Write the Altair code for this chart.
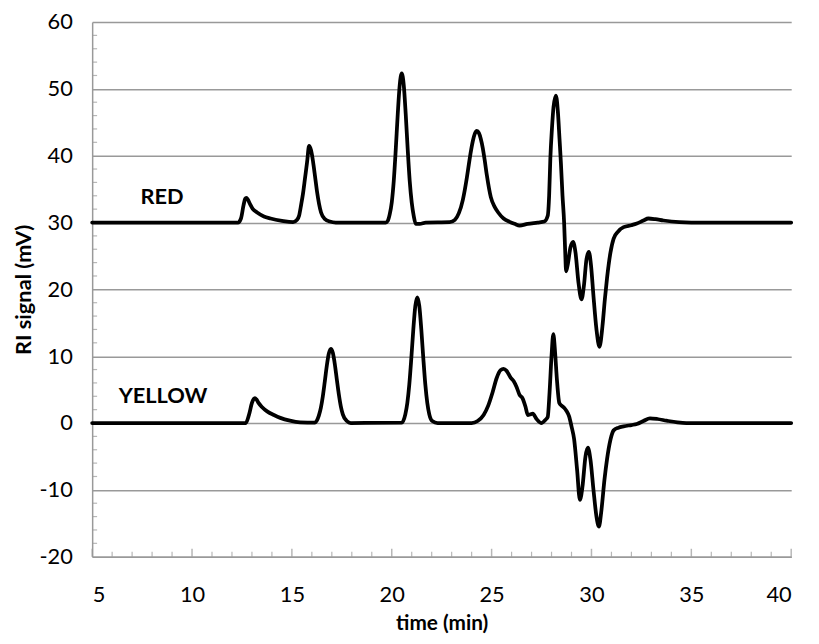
import altair as alt
import pandas as pd

# ---- data ----
red_time = [5, 12.3, 12.45, 12.58, 12.66, 12.72, 12.8, 12.9, 13.05, 13.26, 13.6, 13.93, 14.5, 15.06,
            15.26, 15.36, 15.46, 15.56, 15.66, 15.76, 15.86, 15.96, 16.06, 16.16, 16.26,
            16.36, 16.46, 16.66, 16.9, 17.2, 19.7, 19.8, 19.9, 20.0, 20.1, 20.2, 20.3,
            20.4, 20.5, 20.6, 20.7, 20.8, 20.9, 21.0, 21.1, 21.2, 21.4, 21.7, 22.9,
            23.16, 23.36, 23.56, 23.76, 23.86, 23.96, 24.06, 24.16, 24.26, 24.36, 24.46,
            24.56, 24.66, 24.76, 24.96, 25.16, 25.33, 25.6, 25.9, 26.15, 26.4, 26.8,
            27.3, 27.64, 27.81, 27.88, 27.94, 28.02, 28.1, 28.22, 28.32, 28.4, 28.47,
            28.55, 28.63, 28.68, 28.73, 28.8, 28.95, 29.08, 29.2, 29.35, 29.5, 29.62,
            29.75, 29.87, 29.98, 30.1, 30.25, 30.4, 30.55, 30.67, 30.78, 30.95, 31.11,
            31.35, 31.61, 32.0, 32.27, 32.6, 32.85, 33.2, 33.6, 34.4, 35.0, 40]
red_signal = [30, 30, 30.6, 32.6, 33.55, 33.7, 33.4, 32.8, 32.0, 31.5, 30.9, 30.6, 30.25, 30.05,
              30.4, 31.0, 32.6, 34.4, 36.7, 39.0, 41.45, 40.8, 39.1, 36.9, 34.6,
              32.8, 31.5, 30.5, 30.15, 30.0, 30.0, 30.25, 31.25, 33.0, 36.2, 40.9, 46.2,
              50.6, 52.3, 50.6, 46.2, 40.9, 36.2, 33.0, 31.0, 29.8, 29.8, 30.0, 30.05,
              30.4, 31.4, 33.4, 36.7, 38.7, 40.6, 42.2, 43.3, 43.7, 43.4, 42.5,
              41.1, 39.2, 37.1, 33.8, 32.3, 31.5, 30.6, 30.1, 29.8, 29.55, 29.8,
              30.0, 30.15, 31.0, 34.0, 39.5, 44.0, 47.3, 49.0, 46.5, 42.5, 38.9,
              34.0, 30.0, 26.0, 22.7, 23.5, 26.3, 27.1, 25.5, 21.0, 18.5, 20.5,
              24.5, 25.6, 23.5, 19.0, 14.0, 11.4, 14.5, 18.5, 21.7, 25.5, 27.6,
              28.7, 29.3, 29.6, 29.85, 30.3, 30.6, 30.5, 30.3, 30.05, 30.0, 30.0]

yellow_time = [5, 12.69, 12.85, 13.0, 13.09, 13.15, 13.22, 13.32, 13.5, 13.76, 14.1, 14.42, 14.9, 15.41,
               16.15, 16.35, 16.45, 16.55, 16.65, 16.75, 16.85, 16.95, 17.05, 17.15,
               17.25, 17.35, 17.45, 17.55, 17.75, 17.95, 20.5, 20.68, 20.78, 20.88,
               20.98, 21.08, 21.18, 21.28, 21.38, 21.48, 21.58, 21.68, 21.78, 21.88,
               22.03, 22.3, 24.0, 24.3, 24.6, 24.83, 25.05, 25.25, 25.45, 25.6, 25.75,
               25.95, 26.1, 26.25, 26.4, 26.55, 26.7, 26.81, 26.95, 27.06, 27.25, 27.48,
               27.7, 27.81, 27.9, 28.0, 28.09, 28.18, 28.27, 28.39, 28.5, 28.63, 28.75,
               28.88, 29.0, 29.13, 29.28, 29.42, 29.55, 29.7, 29.82, 29.95, 30.1, 30.25,
               30.37, 30.5, 30.65, 30.78, 30.95, 31.11, 31.35, 31.61, 32.0, 32.27, 32.6,
               32.93, 33.3, 33.76, 34.3, 34.75, 40]
yellow_signal = [0, 0, 1.2, 3.0, 3.6, 3.72, 3.55, 3.05, 2.4, 1.74, 1.2, 0.77, 0.35, 0.1,
                 0.05, 1.1, 2.25, 4.0, 6.25, 8.6, 10.4, 11.1, 10.5, 8.8,
                 6.5, 4.3, 2.5, 1.3, 0.3, 0.0, 0.05, 1.3, 3.0, 5.8,
                 9.7, 14.0, 17.5, 18.8, 17.5, 14.0, 9.7, 5.8, 3.0, 1.3,
                 0.3, 0.0, 0.0, 0.3, 1.2, 2.6, 4.6, 6.7, 7.9, 8.1, 7.8,
                 6.8, 6.3, 5.4, 4.2, 3.7, 2.4, 1.2, 1.3, 1.4, 0.6, 0.0,
                 0.5, 0.9, 4.5, 10.0, 13.3, 10.5, 6.5, 3.0, 2.6, 2.3, 1.8,
                 1.0, -0.5, -2.4, -7.0, -11.5, -9.5, -5.0, -3.7, -5.5, -10.0, -14.0,
                 -15.5, -13.0, -8.5, -5.4, -2.5, -1.1, -0.7, -0.5, -0.3, -0.15, 0.3,
                 0.7, 0.6, 0.35, 0.1, 0.0, 0.0]

series_names = ["RED", "YELLOW"]
label_time = [8.5, 8.55]
label_signal = [33.8, 4.0]

x_ticks = [5, 10, 15, 20, 25, 30, 35, 40]
x_minor = [t for t in range(5, 41) if t % 5 != 0]
y_ticks = [-20, -10, 0, 10, 20, 30, 40, 50, 60]
y_minor = [v for v in range(-20, 61, 2) if v % 10 != 0]

FONT = "Lato"
GRAY = "#999999"

df = pd.DataFrame({
    "time": red_time + yellow_time,
    "signal": red_signal + yellow_signal,
    "series": [series_names[0]] * len(red_time) + [series_names[1]] * len(yellow_time),
})

xs = alt.Scale(domain=[5, 40], nice=False, zero=False)
ys = alt.Scale(domain=[-20, 60], nice=False, zero=False)

lines = alt.Chart(df).mark_line(
    color="black", strokeWidth=3.8, interpolate="monotone",
    strokeCap="round", strokeJoin="round"
).encode(
    x=alt.X("time:Q", scale=xs, title="time (min)",
            axis=alt.Axis(values=x_ticks, grid=False, ticks=False, tickSize=0,
                          labelPadding=28, titlePadding=8)),
    y=alt.Y("signal:Q", scale=ys, title="RI signal (mV)",
            axis=alt.Axis(values=y_ticks, grid=True, ticks=False, tickSize=0,
                          labelExpr="'' + datum.value",
                          labelPadding=20, titlePadding=4, titleFontSize=22)),
    detail="series:N",
)

xmaj = alt.Chart(pd.DataFrame({"time": x_ticks})).mark_tick(
    orient="vertical", size=8, thickness=1.5, color=GRAY, yOffset=-4
).encode(x=alt.X("time:Q", scale=xs), y=alt.datum(-20))
xmin = alt.Chart(pd.DataFrame({"time": x_minor})).mark_tick(
    orient="vertical", size=5, thickness=1.2, color=GRAY, yOffset=-2.5
).encode(x=alt.X("time:Q", scale=xs), y=alt.datum(-20))
ymin = alt.Chart(pd.DataFrame({"signal": y_minor})).mark_tick(
    orient="horizontal", size=5, thickness=1.2, color=GRAY, xOffset=2.5
).encode(y=alt.Y("signal:Q", scale=ys), x=alt.datum(5))

labels = alt.Chart(pd.DataFrame({"time": label_time, "signal": label_signal,
                                 "name": series_names})).mark_text(
    font=FONT, fontSize=22, fontWeight="bold", align="center", baseline="middle",
    color="black"
).encode(x="time:Q", y="signal:Q", text="name:N")

chart = alt.layer(lines, xmaj, xmin, ymin, labels).properties(
    width=706, height=540,
    autosize=alt.AutoSizeParams(type="none"),
    padding={"left": 85, "top": 11, "right": 20, "bottom": 82},
).configure_view(stroke=None).configure_axis(
    domainColor=GRAY, domainWidth=1.5, gridColor=GRAY, gridWidth=1.5,
    labelFont=FONT, labelFontSize=22, labelColor="#000000",
    titleFont=FONT, titleFontSize=21, titleFontWeight="bold", titleColor="#000000",
)

chart.save("out.html", embed_options={"renderer": "svg", "actions": False})
